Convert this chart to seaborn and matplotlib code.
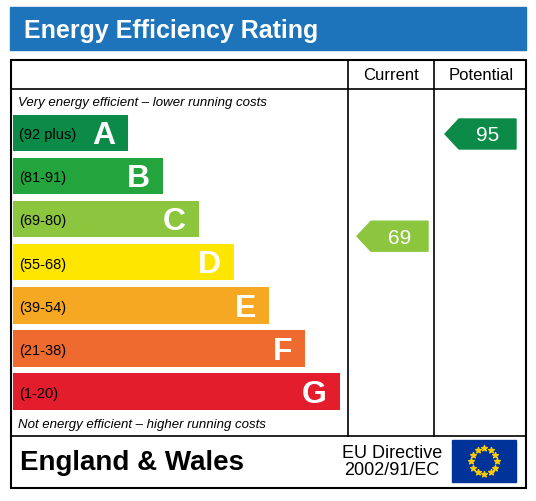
import matplotlib.pyplot as plt
import matplotlib.patches as mp
import numpy as np
import pandas as pd
import seaborn as sns

bands = ["A", "B", "C", "D", "E", "F", "G"]
ranges = ["(92 plus)", "(81-91)", "(69-80)", "(55-68)", "(39-54)", "(21-38)", "(1-20)"]
lengths = [115, 150, 186, 221, 256, 292, 327]
colors = ["#0c8a47", "#23a43c", "#8cc63f", "#ffe600", "#f7a823", "#ee6a2f", "#e31d2b"]
current = 69
potential = 95
current_band = "C"
potential_band = "A"

plt.rcParams["font.family"] = ["Liberation Sans", "DejaVu Sans"]

W, H = 536, 502
fig = plt.figure(figsize=(W / 100, H / 100), dpi=100)
ax = fig.add_axes([0, 0, 1, 1])
ax.set_xlim(0, W)
ax.set_ylim(H, 0)
ax.axis("off")

# header band
ax.add_patch(mp.Rectangle((10, 8), 516, 43, color="#1e74bb"))
ax.text(24, 31, "Energy Efficiency Rating", color="white", fontsize=18,
        fontweight="bold", va="center", ha="left")

# frame
ax.add_patch(mp.Rectangle((11, 61), 515, 428, fill=False, lw=1.5, ec="black"))
for x in (348, 434):
    ax.plot([x, x], [61, 437], color="black", lw=1.2)
ax.plot([11, 526], [90, 90], color="black", lw=1.2)
ax.plot([11, 526], [437, 437], color="black", lw=1.2)
ax.text(391, 76, "Current", ha="center", va="center", fontsize=12)
ax.text(481, 76, "Potential", ha="center", va="center", fontsize=12)
ax.text(18, 103, "Very energy efficient \u2013 lower running costs", fontsize=9.5,
        style="italic", va="center")
ax.text(18, 425, "Not energy efficient \u2013 higher running costs", fontsize=9.5,
        style="italic", va="center")

# bands via seaborn
step = 43.1
top = 134 - step / 2
bx = fig.add_axes([13 / W, 1 - (top + 7 * step) / H, 327 / W, 7 * step / H])
df = pd.DataFrame({"band": bands, "length": lengths})
sns.barplot(data=df, x="length", y="band", hue="band", palette=colors,
            orient="h", width=0.84, legend=False, saturation=1, ax=bx)
bx.set_xlim(0, 327)
bx.axis("off")
for i, (b, r, l) in enumerate(zip(bands, ranges, lengths)):
    bx.text(6, i + 0.03, r, va="center", ha="left", fontsize=10.5, color="black")
    bx.text(l - 13, i + 0.05, b, va="center", ha="right", fontsize=23,
            fontweight="bold", color="white")

# arrows
def arrow(x0, x1, yc, val, col):
    h = 30
    pts = [(x0, yc), (x0 + 14, yc - h / 2), (x1, yc - h / 2), (x1, yc + h / 2), (x0 + 14, yc + h / 2)]
    ax.add_patch(mp.Polygon(pts, closed=True, color=col))
    ax.text((x0 + 14 + x1) / 2, yc + 1, str(val), ha="center", va="center",
            fontsize=15, color="white")

yc = {b: 134 + i * step for i, b in enumerate(bands)}
arrow(357, 428, yc[current_band] + 17, current, colors[bands.index(current_band)])
arrow(445, 516, yc[potential_band] + 1, potential, colors[bands.index(potential_band)])

# footer
ax.text(20, 463, "England & Wales", fontsize=20, fontweight="bold", va="center")
ax.text(392, 462, "EU Directive\n2002/91/EC", fontsize=13, ha="center",
        va="center", linespacing=1.05)
ax.add_patch(mp.Rectangle((452, 441), 64, 42, color="#003399"))
ang = np.linspace(0, 2 * np.pi, 13)[:-1]
ax.scatter(484 + 13 * np.cos(ang), 462 + 13 * np.sin(ang), marker="*",
           s=18, color="#ffcc00", zorder=5)

fig.savefig("out.png", dpi=100)
